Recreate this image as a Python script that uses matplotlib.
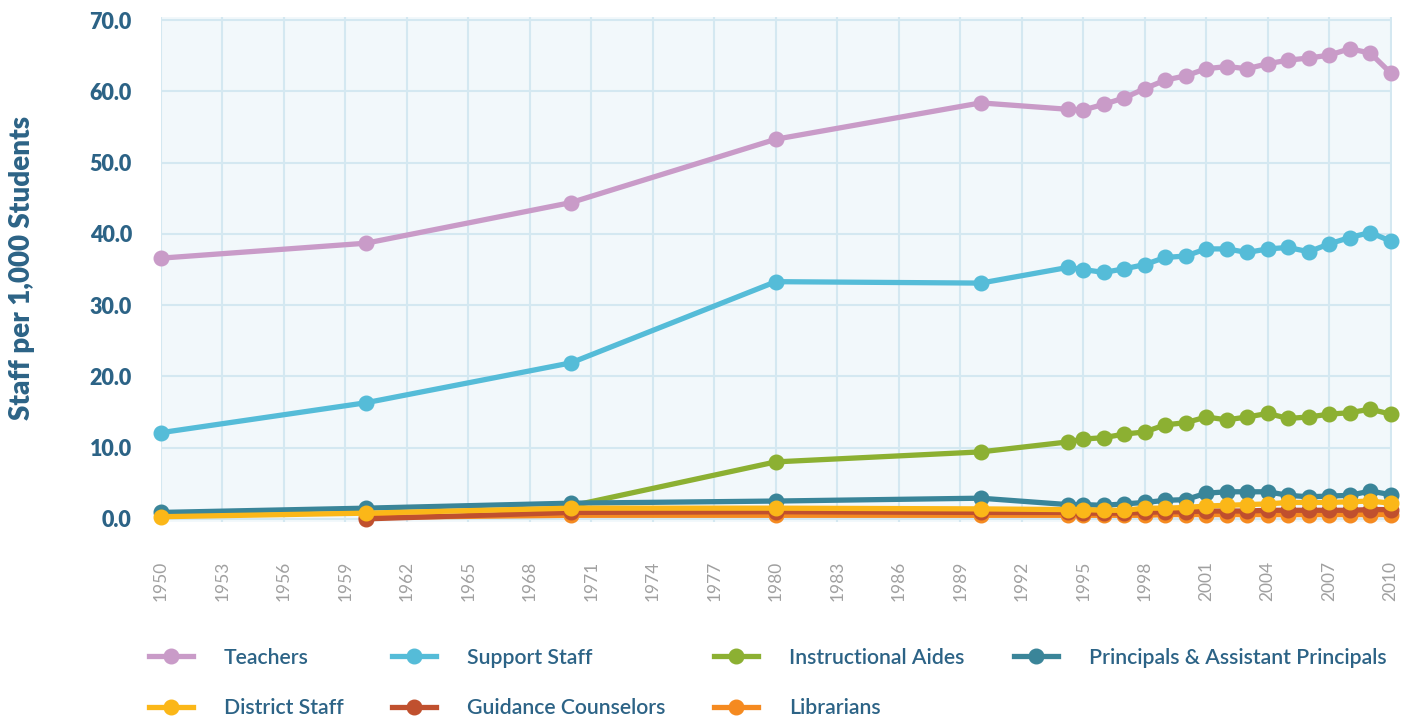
import numpy as np
import matplotlib
matplotlib.use("Agg")
import matplotlib.pyplot as plt

nan = np.nan

# years of the data points (the 1994 point sits a bit after the 1994 mark)
years = [1950, 1960, 1970, 1980, 1990, 1994.25, 1995, 1996, 1997, 1998, 1999,
         2000, 2001, 2002, 2003, 2004, 2005, 2006, 2007, 2008, 2009, 2010]

teachers = [36.6, 38.7, 44.4, 53.3, 58.4, 57.5, 57.4, 58.2, 59.1, 60.4, 61.6,
            62.2, 63.2, 63.5, 63.2, 63.9, 64.4, 64.7, 65.1, 66.0, 65.4, 62.6]
support_staff = [12.1, 16.3, 21.9, 33.3, 33.1, 35.3, 35.0, 34.6, 35.1, 35.7, 36.7,
                 36.9, 37.9, 37.9, 37.4, 37.9, 38.1, 37.5, 38.6, 39.5, 40.2, 39.0]
instructional_aides = [nan, nan, 1.8, 8.0, 9.4, 10.8, 11.2, 11.4, 11.9, 12.2, 13.2,
                       13.5, 14.3, 13.9, 14.3, 14.8, 14.1, 14.3, 14.7, 14.9, 15.4, 14.7]
principals = [0.9, 1.5, 2.2, 2.5, 2.9, 2.0, 2.0, 1.9, 2.1, 2.3, 2.6,
              2.7, 3.6, 3.8, 3.8, 3.8, 3.3, 3.1, 3.2, 3.3, 3.9, 3.4]
district_staff = [0.3, 0.8, 1.5, 1.5, 1.4, 1.3, 1.3, 1.2, 1.2, 1.5, 1.5,
                  1.6, 1.8, 1.9, 2.0, 2.1, 2.3, 2.3, 2.3, 2.4, 2.5, 2.2]
guidance = [nan, 0.0, 0.9, 1.0, 0.9, 0.9, 0.8, 0.8, 0.8, 0.9, 1.0,
            1.0, 1.1, 1.1, 1.1, 1.2, 1.2, 1.2, 1.2, 1.2, 1.3, 1.3]
librarians = [nan, 0.2, 0.5, 0.5, 0.5, 0.5, 0.5, 0.5, 0.5, 0.5, 0.6,
              0.6, 0.6, 0.6, 0.6, 0.6, 0.6, 0.6, 0.6, 0.6, 0.6, 0.6]

x_ticks = list(range(1950, 2011, 3))
y_ticks = [0, 10, 20, 30, 40, 50, 60, 70]

plt.rcParams['font.family'] = ['Lato', 'DejaVu Sans']

navy = '#2c6386'

series = [
    ('Teachers', teachers, '#c99bc8', 6),
    ('Support Staff', support_staff, '#55bcd8', 5),
    ('Instructional Aides', instructional_aides, '#8cb032', 3),
    ('Principals & Assistant Principals', principals, '#3a8599', 4),
    ('District Staff', district_staff, '#fbb718', 7),
    ('Guidance Counselors', guidance, '#c0502e', 2),
    ('Librarians', librarians, '#f58a20', 1),
]

fig = plt.figure(figsize=(14.11, 7.19), dpi=100)
ax = fig.add_axes([161 / 1411, 1 - 521.7 / 719, (1391.7 - 161) / 1411, (521.7 - 16.7) / 719])
ax.set_facecolor('#f2f8fb')

handles = {}
for name, vals, color, z in series:
    line, = ax.plot(years, vals, color=color, lw=3.8, marker='o', ms=10.5,
                    label=name, zorder=z, clip_on=False)
    handles[name] = line

ax.set_xlim(1950, 2010.05)
ax.set_ylim(-0.4, 70.5)
ax.set_xticks(x_ticks)
ax.set_xticklabels([str(t) for t in x_ticks], rotation=90, color='#a0a0a0',
                   fontsize=12.5)
ax.set_yticks(y_ticks)
ax.set_yticklabels(['%.1f' % t for t in y_ticks], color=navy, fontsize=15.5,
                   fontweight='heavy')
ax.tick_params(axis='both', length=0)
ax.tick_params(axis='x', pad=28)
ax.tick_params(axis='y', pad=21)
ax.grid(True, color='#d4e8f1', lw=1.5)
ax.set_axisbelow(True)
for s in ax.spines.values():
    s.set_visible(False)

fig.text(22 / 1411, 1 - 268 / 719, 'Staff per 1,000 Students', rotation=90,
         ha='center', va='center', fontsize=20, fontweight='heavy', color=navy)

# legend: filled column by column, so order is picked to read row by row
order = ['Teachers', 'District Staff', 'Support Staff', 'Guidance Counselors',
         'Instructional Aides', 'Librarians', 'Principals & Assistant Principals']
leg = fig.legend([handles[n] for n in order], order, ncol=4, loc='upper left',
                 bbox_to_anchor=(140 / 1411, 1 - 639 / 719), frameon=False,
                 fontsize=15.3, handlelength=2.08, handletextpad=1.45,
                 columnspacing=2.3, labelspacing=1.45, borderaxespad=0)
for t in leg.get_texts():
    t.set_color(navy)
    t.set_fontweight('semibold')

fig.savefig('out.png', dpi=100)
